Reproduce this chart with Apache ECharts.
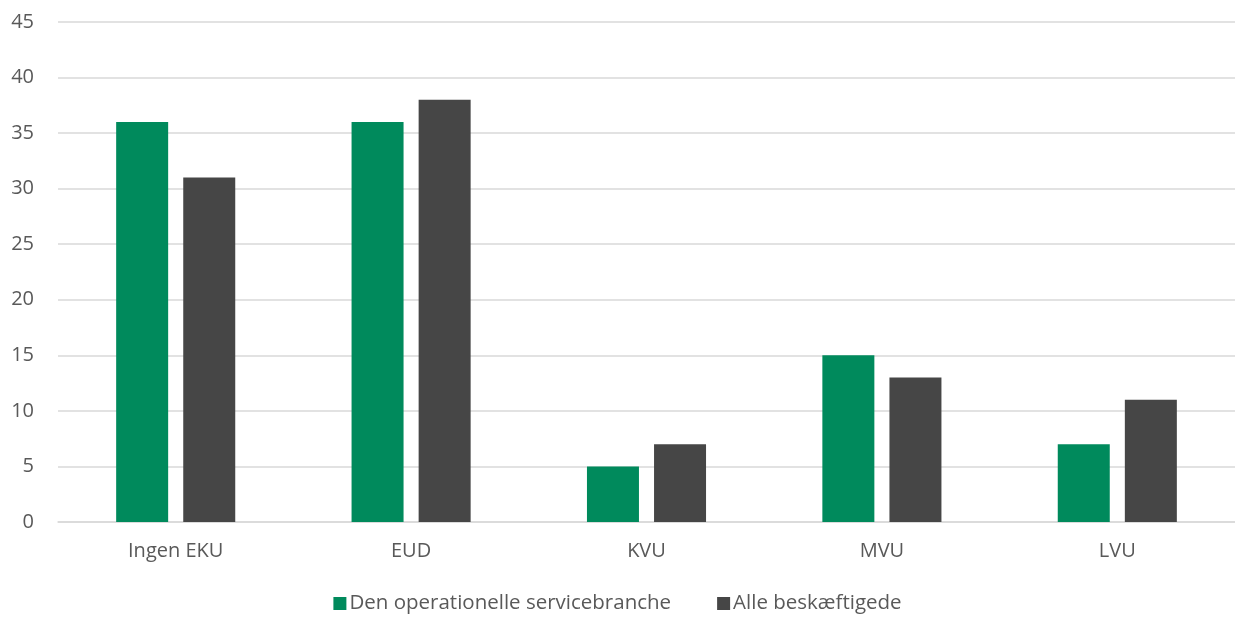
<!DOCTYPE html>
<html>
<head>
<meta charset="utf-8">
<script src="https://cdn.jsdelivr.net/npm/echarts@6/dist/echarts.min.js"></script>
<style>html,body{margin:0;padding:0;background:#fff}#c{width:1235px;height:619px}</style>
</head>
<body>
<div id="c"></div>
<script>
const categories = ['Ingen EKU', 'EUD', 'KVU', 'MVU', 'LVU'];
const seriesNames = ['Den operationelle servicebranche', 'Alle beskæftigede'];
const serviceValues = [36, 36, 5, 15, 7];
const allValues = [31, 38, 7, 13, 11];
const yTicks = { min: 0, max: 45, interval: 5 };

const font = '"Open Sans", "Liberation Sans", sans-serif';
const chart = echarts.init(document.getElementById('c'), null, { renderer: 'canvas' });
chart.setOption({
  animation: false,
  textStyle: { fontFamily: font },
  grid: { left: 58, right: 0, top: 22, bottom: 97, containLabel: false },
  legend: {
    bottom: 0,
    left: 'center',
    itemWidth: 13,
    itemHeight: 13,
    itemGap: 46,
    icon: 'rect',
    textStyle: { fontFamily: font, fontSize: 20.5, color: '#595959', padding: [0, 0, 0, -2] },
    data: seriesNames
  },
  xAxis: {
    type: 'category',
    data: categories,
    axisLine: { show: true, lineStyle: { color: '#d9d9d9', width: 1.5 } },
    axisTick: { show: false },
    axisLabel: { fontFamily: font, fontSize: 20, color: '#595959', margin: 19 }
  },
  yAxis: {
    type: 'value',
    min: yTicks.min,
    max: yTicks.max,
    interval: yTicks.interval,
    axisLine: { show: false },
    axisTick: { show: false },
    axisLabel: { fontFamily: font, fontSize: 20, color: '#595959', margin: 24 },
    splitLine: { lineStyle: { color: '#d9d9d9', width: 1.5 } }
  },
  series: [
    {
      name: seriesNames[0],
      type: 'bar',
      data: serviceValues,
      barWidth: 52,
      barGap: '29%',
      itemStyle: { color: '#008A5C' }
    },
    {
      name: seriesNames[1],
      type: 'bar',
      data: allValues,
      barWidth: 52,
      barGap: '29%',
      itemStyle: { color: '#464646' }
    }
  ]
});
</script>
</body>
</html>
